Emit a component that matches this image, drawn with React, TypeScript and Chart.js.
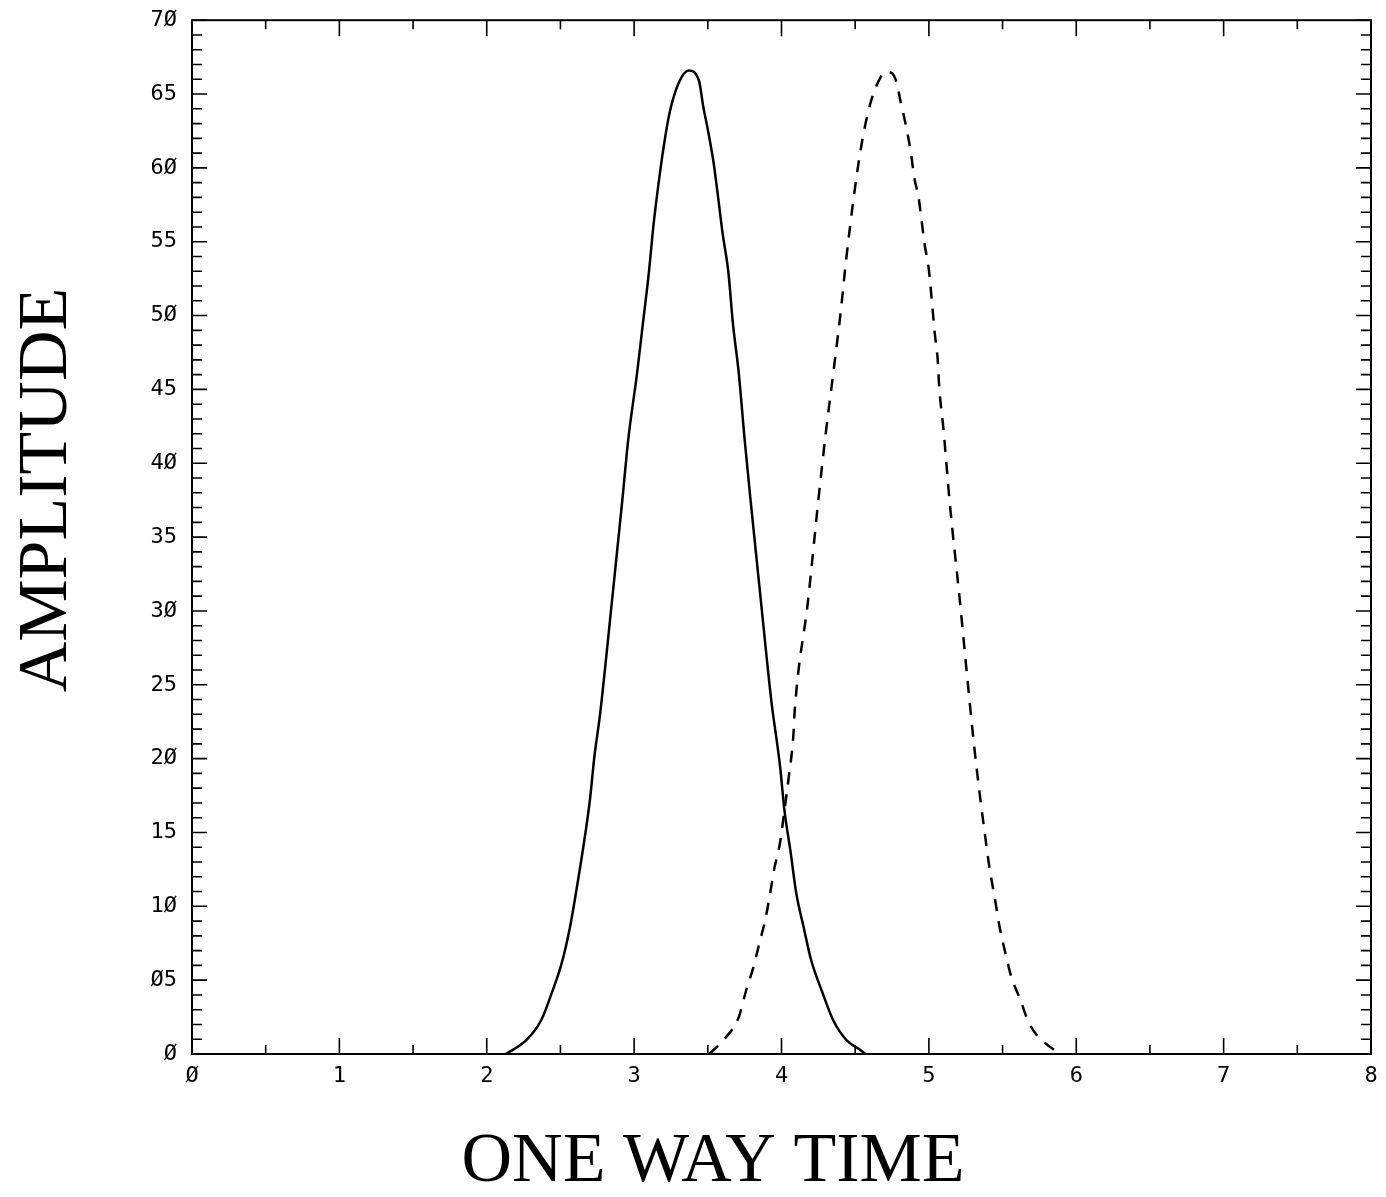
import React, { useEffect, useRef } from "react";
import { Chart, registerables } from "chart.js";

Chart.register(...registerables);

const xTickLabels = ["Ø", "1", "2", "3", "4", "5", "6", "7", "8"];
const yTickLabels = ["Ø", "Ø5", "1Ø", "15", "2Ø", "25", "3Ø", "35", "4Ø", "45", "5Ø", "55", "6Ø", "65", "7Ø"];

const xTitle = "ONE WAY TIME";
const yTitle = "AMPLITUDE";

const solidX = [2.13, 2.27, 2.37, 2.44, 2.51, 2.565, 2.62, 2.67, 2.70, 2.73, 2.77, 2.85, 2.92, 2.96, 3.02, 3.06, 3.10, 3.13, 3.16, 3.20, 3.24, 3.30, 3.37, 3.44, 3.47, 3.50, 3.54, 3.57, 3.60, 3.64, 3.67, 3.71, 3.75, 3.79, 3.86, 3.93, 3.99, 4.02, 4.06, 4.10, 4.15, 4.20, 4.28, 4.35, 4.44, 4.53, 4.57];
const solidY = [0, 0.95, 2.3, 4.1, 6.2, 8.6, 11.8, 15.0, 17.2, 20.1, 23.1, 30.7, 37.5, 41.6, 46.1, 49.5, 52.9, 56.0, 58.5, 61.4, 63.7, 65.7, 66.6, 65.9, 64.1, 62.6, 60.3, 58.0, 55.6, 52.9, 49.5, 46.1, 41.6, 37.5, 30.7, 24.0, 19.5, 16.5, 13.8, 10.9, 8.6, 6.4, 4.1, 2.3, 0.95, 0.3, 0];

const dashedX = [3.51, 3.62, 3.71, 3.76, 3.81, 3.85, 3.89, 3.92, 3.95, 3.99, 4.02, 4.05, 4.08, 4.09, 4.18, 4.25, 4.30, 4.35, 4.40, 4.44, 4.49, 4.53, 4.57, 4.61, 4.67, 4.71, 4.75, 4.78, 4.81, 4.85, 4.88, 4.90, 4.93, 4.95, 4.97, 5.00, 5.02, 5.04, 5.06, 5.07, 5.10, 5.14, 5.21, 5.28, 5.31, 5.35, 5.38, 5.41, 5.45, 5.48, 5.52, 5.56, 5.62, 5.67, 5.73, 5.82, 5.89];
const dashedY = [0, 1.1, 2.5, 4.3, 5.9, 7.5, 9.1, 10.7, 12.5, 14.3, 16.5, 18.8, 21.5, 23.3, 30.7, 37.5, 42.0, 46.0, 50.1, 53.9, 58.0, 60.8, 63.0, 64.6, 66.1, 66.5, 66.4, 65.8, 64.4, 62.6, 60.9, 59.4, 58.0, 56.5, 54.9, 53.1, 51.0, 48.8, 47.0, 45.2, 42.2, 37.5, 30.7, 23.5, 20.6, 17.2, 14.9, 12.7, 10.4, 8.6, 6.8, 5.2, 3.7, 2.3, 1.3, 0.5, 0];

const W = 1386;
const H = 1197;

const framePlugin = {
  id: "frameTicks",
  afterDraw(chart: any) {
    const ctx = chart.ctx;
    const { left, right, top, bottom } = chart.chartArea;
    const xs = chart.scales.x;
    const ys = chart.scales.y;
    ctx.save();
    ctx.strokeStyle = "#000";
    ctx.lineWidth = 2;
    ctx.strokeRect(left, top, right - left, bottom - top);
    ctx.lineWidth = 1.6;
    ctx.beginPath();
    for (let i = 0; i <= 16; i++) {
      const v = i * 0.5;
      const px = xs.getPixelForValue(v);
      const len = i % 2 === 0 ? 16 : 9;
      ctx.moveTo(px, bottom);
      ctx.lineTo(px, bottom - len);
      ctx.moveTo(px, top);
      ctx.lineTo(px, top + len);
    }
    for (let v = 0; v <= 70; v++) {
      const py = ys.getPixelForValue(v);
      const len = v % 5 === 0 ? 15 : 10;
      ctx.moveTo(left, py);
      ctx.lineTo(left + len, py);
      ctx.moveTo(right, py);
      ctx.lineTo(right - len, py);
    }
    ctx.stroke();

    ctx.fillStyle = "#000";
    ctx.font = '70px "Liberation Serif"';
    ctx.textAlign = "center";
    ctx.textBaseline = "middle";
    ctx.fillText(xTitle, 713, 1163);
    ctx.translate(48, 490);
    ctx.rotate(-Math.PI / 2);
    ctx.fillText(yTitle, 0, 0);
    ctx.restore();
  },
};

export default function App() {
  const ref = useRef<HTMLCanvasElement | null>(null);

  useEffect(() => {
    if (!ref.current) return;
    const chart = new Chart(ref.current, {
      type: "line",
      data: {
        datasets: [
          {
            data: solidX.map((x, i) => ({ x, y: solidY[i] })),
            borderColor: "#000",
            borderWidth: 2.5,
            pointRadius: 0,
            cubicInterpolationMode: "monotone",
            fill: false,
          },
          {
            data: dashedX.map((x, i) => ({ x, y: dashedY[i] })),
            borderColor: "#000",
            borderWidth: 2.5,
            borderDash: [12, 10],
            pointRadius: 0,
            cubicInterpolationMode: "monotone",
            fill: false,
          },
        ],
      },
      options: {
        responsive: false,
        animation: false,
        layout: { padding: { left: 0, right: 15, top: 13, bottom: 0 } },
        plugins: {
          legend: { display: false },
          tooltip: { enabled: false },
          title: { display: false },
        },
        scales: {
          x: {
            type: "linear",
            min: 0,
            max: 8,
            grid: { display: false },
            border: { display: false },
            ticks: {
              stepSize: 1,
              padding: 1,
              color: "#000",
              font: { family: '"DejaVu Sans Mono"', size: 22 },
              maxRotation: 0,
              callback: (v: any) => xTickLabels[Math.round(Number(v))] ?? "",
            },
            afterFit: (s: any) => {
              s.height = H - 1054;
            },
          },
          y: {
            type: "linear",
            min: 0,
            max: 70,
            grid: { display: false },
            border: { display: false },
            ticks: {
              stepSize: 5,
              padding: 7,
              color: "#000",
              font: { family: '"DejaVu Sans Mono"', size: 22 },
              callback: (v: any) => yTickLabels[Math.round(Number(v) / 5)] ?? "",
            },
            afterFit: (s: any) => {
              s.width = 192;
            },
          },
        },
      },
      plugins: [framePlugin],
    });
    return () => chart.destroy();
  }, []);

  return (
    <div style={{ position: "absolute", left: 0, top: 0, width: W, height: H, background: "#fff" }}>
      <canvas ref={ref} width={W} height={H} style={{ display: "block", width: W, height: H }} />
    </div>
  );
}
